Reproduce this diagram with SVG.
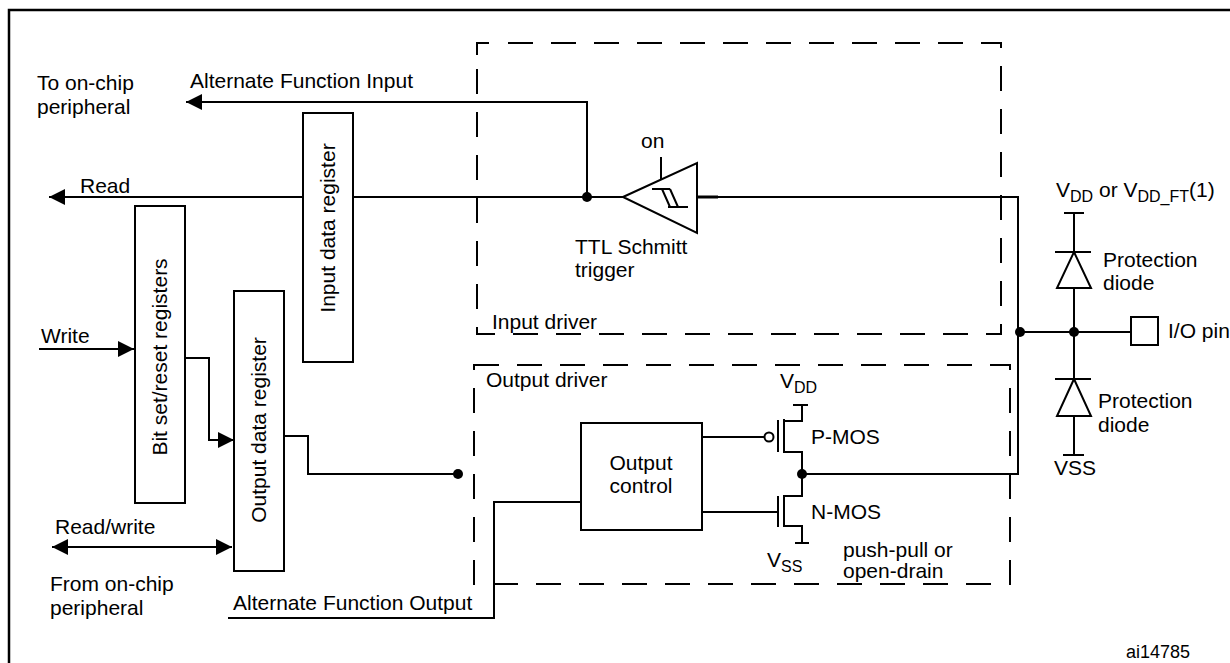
<svg xmlns="http://www.w3.org/2000/svg" width="1230" height="663" viewBox="0 0 1230 663">
<style>
text{font-family:"Liberation Sans",Arial,sans-serif;font-size:21px;fill:#000}
.sub{font-size:16px}
.ln{fill:none;stroke:#000;stroke-width:2}
.box{fill:#fff;stroke:#000;stroke-width:2}
.dash{fill:none;stroke:#000;stroke-width:2;stroke-dasharray:25 18}
.dot{fill:#000}
</style>
<defs>
<marker id="arr" viewBox="0 0 16 16" refX="16" refY="8" markerWidth="16" markerHeight="16" markerUnits="userSpaceOnUse" orient="auto-start-reverse">
<path d="M0,0 L16,8 L0,16 z" fill="#000"/>
</marker>
</defs>
<rect width="1230" height="663" fill="#fff"/>
<path d="M9,680 V10 H1240" fill="none" stroke="#000" stroke-width="2.5"/>

<g id="input-driver">
<path class="dash" d="M477,55 V43 H489"/>
<path class="dash" d="M508,43 H1001 V334 H477 V43" style="stroke-dashoffset:0"/>
<text x="492" y="329">Input driver</text>
</g>
<g id="output-driver">
<path class="dash" d="M474,365 H1010 V584 H474 Z"/>
<text x="486" y="387">Output driver</text>
</g>

<g id="connectors">
<path class="ln" d="M587,197 V102 H186" marker-end="url(#arr)"/>
<path class="ln" d="M303,197 H49" marker-end="url(#arr)"/>
<path class="ln" d="M353,197 H623"/>
<path class="ln" d="M39,349 H134" marker-end="url(#arr)"/>
<path class="ln" d="M185,358 H209 V440 H234" marker-end="url(#arr)"/>
<path class="ln" d="M52,547 H232" marker-start="url(#arr)" marker-end="url(#arr)"/>
<path class="ln" d="M284,436 H308 V474 H458"/>
<path class="ln" d="M228,618 H494 V502 H581"/>
<path class="ln" d="M702,437 H764.5"/>
<path class="ln" d="M702,512 H778"/>
<path class="ln" d="M697,197 H1018 V474 H802"/>
<path d="M697,197 H718" stroke="#000" stroke-width="3"/>
<path class="ln" d="M1018,332 H1131"/>
<circle class="dot" cx="587" cy="197" r="5"/>
<circle class="dot" cx="458" cy="474" r="5"/>
<circle class="dot" cx="802" cy="474" r="5"/>
<circle class="dot" cx="1020" cy="332" r="5"/>
<circle class="dot" cx="1074" cy="332" r="5"/>
</g>

<g id="labels-left">
<text x="37" y="90">To on-chip</text>
<text x="37" y="114">peripheral</text>
<text x="190" y="88">Alternate Function Input</text>
<text x="80" y="193">Read</text>
<text x="41" y="343">Write</text>
<text x="55" y="534">Read/write</text>
<text x="50" y="591">From on-chip</text>
<text x="50" y="615">peripheral</text>
<text x="233" y="610">Alternate Function Output</text>
</g>

<g id="input-data-register">
<rect class="box" x="303" y="113" width="50" height="249"/>
<text transform="translate(335,228) rotate(-90)" text-anchor="middle">Input data register</text>
</g>
<g id="bit-set-reset-registers">
<rect class="box" x="135" y="206" width="50" height="297"/>
<text transform="translate(167,357) rotate(-90)" text-anchor="middle">Bit set/reset registers</text>
</g>
<g id="output-data-register">
<rect class="box" x="234" y="291" width="50" height="280"/>
<text transform="translate(266,430) rotate(-90)" text-anchor="middle">Output data register</text>
</g>

<g id="schmitt-trigger">
<path class="box" d="M623,197 L697,163 V233 Z"/>
<path class="ln" d="M661,157 V180"/>
<path class="ln" d="M652,189 H670 M662,189 L670,207 M670,189 L678,207 M668,207 H688"/>
<text x="641" y="148">on</text>
<text x="575" y="254">TTL Schmitt</text>
<text x="575" y="277">trigger</text>
</g>

<g id="output-control">
<rect class="box" x="581" y="423" width="121" height="107"/>
<text x="641" y="470" text-anchor="middle">Output</text>
<text x="641" y="493" text-anchor="middle">control</text>
</g>

<g id="p-mos">
<path class="ln" d="M793,405 H808 M802,405 V421 H784 M784,419 V453 M778,420 V452 M784,452 H802 V474"/>
<circle cx="769" cy="437" r="4.5" fill="#fff" stroke="#000" stroke-width="2"/>
<text x="780" y="388">V<tspan class="sub" dy="5">DD</tspan></text>
<text x="811" y="444">P-MOS</text>
</g>
<g id="n-mos">
<path class="ln" d="M802,474 V496 H784 M784,495 V527 M778,496 V527 M784,526 H802 V543 M795,543 H809"/>
<text x="767" y="567">V<tspan class="sub" dy="5">SS</tspan></text>
<text x="811" y="519">N-MOS</text>
<text x="843" y="557">push-pull or</text>
<text x="843" y="578">open-drain</text>
</g>

<g id="protection-diodes">
<path class="ln" d="M1064,213 H1084 M1074,213 V252 M1055,252 H1091 M1074,288 V379 M1055,379 H1091 M1074,416 V455 M1063,455 H1084"/>
<path class="box" d="M1074,252 L1091,288 H1057 Z"/>
<path class="box" d="M1074,379 L1091,416 H1057 Z"/>
<text x="1056" y="197">V<tspan class="sub" dy="5">DD</tspan><tspan dy="-5"> or V</tspan><tspan class="sub" dy="5">DD_FT</tspan><tspan dy="-5">(1)</tspan></text>
<text x="1103" y="267">Protection</text>
<text x="1103" y="290">diode</text>
<text x="1098" y="408">Protection</text>
<text x="1098" y="432">diode</text>
<text x="1054" y="475">VSS</text>
</g>

<g id="io-pin">
<rect class="box" x="1131" y="317" width="27" height="28"/>
<text x="1168" y="338">I/O pin</text>
</g>

<text x="1126" y="658" style="font-size:18px">ai14785</text>
</svg>
